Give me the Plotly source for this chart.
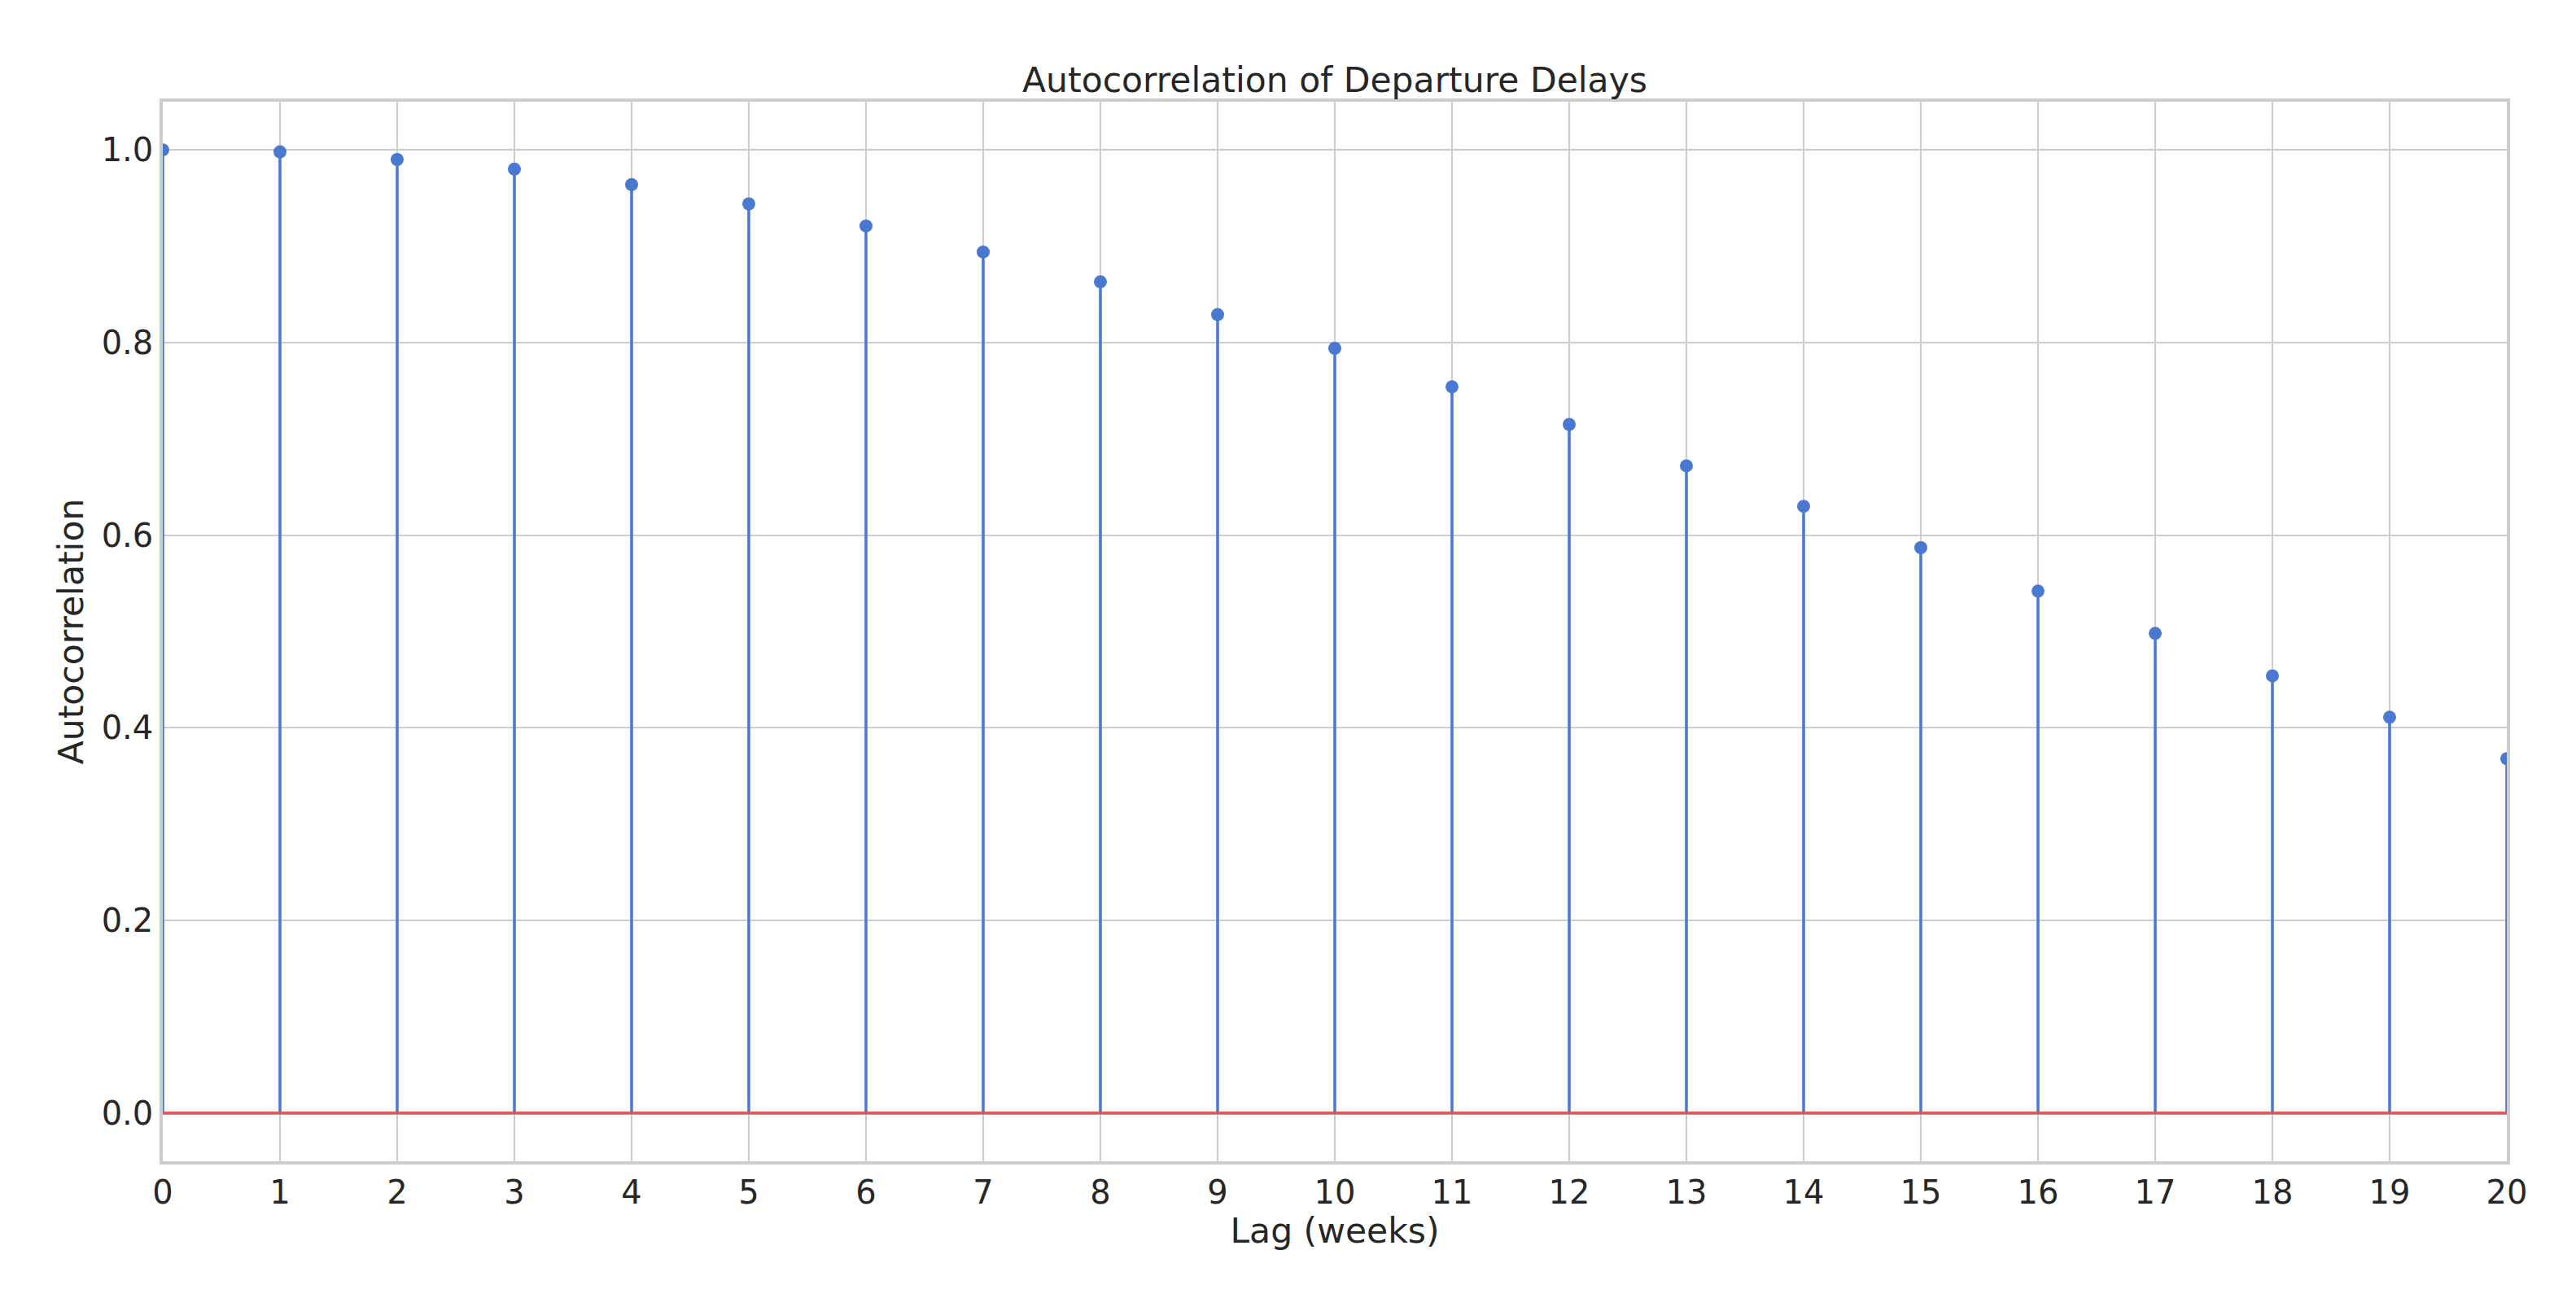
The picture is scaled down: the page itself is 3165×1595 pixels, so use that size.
import plotly.graph_objects as go

# Autocorrelation values, lags 0..20 (weeks)
lags = list(range(21))
acf_values = [1.000, 0.998, 0.990, 0.980, 0.964, 0.944, 0.921, 0.894, 0.863, 0.829,
              0.794, 0.754, 0.715, 0.672, 0.630, 0.587, 0.542, 0.498, 0.454, 0.411,
              0.368]
y_ticks = [0.0, 0.2, 0.4, 0.6, 0.8, 1.0]

title_text = "Autocorrelation of Departure Delays"
x_label = "Lag (weeks)"
y_label = "Autocorrelation"

FONT = "DejaVu Sans"
TEXT = "#262626"
GRID = "#cccccc"
BLUE = "#4878d0"
RED = "#d65f5f"

# the page body has an 8px margin, so the figure is a bit smaller and offset
PAD = 8
W, H = 3165 - PAD, 1595 - PAD
L, R, T, B = 200 - PAD, 3080 - PAD, 125 - PAD, 1427 - PAD

# stems: vertical segments from 0 to each value
stem_x, stem_y = [], []
for lag, v in zip(lags, acf_values):
    stem_x += [lag, lag, None]
    stem_y += [0, v, None]

fig = go.Figure()

fig.add_trace(go.Scatter(
    x=stem_x, y=stem_y, mode="lines",
    line=dict(color=BLUE, width=3.5),
    hoverinfo="skip", showlegend=False
))

# baseline
fig.add_trace(go.Scatter(
    x=[lags[0], lags[-1]], y=[0, 0], mode="lines",
    line=dict(color=RED, width=4),
    hoverinfo="skip", showlegend=False
))

# markers
fig.add_trace(go.Scatter(
    x=lags, y=acf_values, mode="markers",
    marker=dict(color=BLUE, size=16, line=dict(width=0)),
    showlegend=False
))

axis_common = dict(
    showgrid=True, gridcolor=GRID, gridwidth=2,
    showline=True, linecolor=GRID, linewidth=3.5, mirror=True,
    zeroline=False, ticks="",
    tickfont=dict(family=FONT, size=40, color=TEXT),
)

fig.update_layout(
    width=W, height=H,
    margin=dict(l=L, r=W - R, t=T, b=H - B),
    paper_bgcolor="white", plot_bgcolor="white",
    font=dict(family=FONT, color=TEXT),
    title=dict(
        text=title_text, x=0.5, xref="paper", xanchor="center",
        y=1 - (98 - PAD) / H, yref="container", yanchor="middle",
        font=dict(family=FONT, size=42.5, color=TEXT),
    ),
    xaxis=dict(
        range=[lags[0], lags[-1]], tickmode="array", tickvals=lags,
        ticktext=[str(v) for v in lags],
        title=dict(text=x_label, font=dict(family=FONT, size=42.5, color=TEXT), standoff=5),
        **axis_common,
    ),
    yaxis=dict(
        range=[-0.05, 1.05], tickmode="array", tickvals=y_ticks,
        ticktext=[f"{v:.1f}" for v in y_ticks],
        title=dict(text=y_label, font=dict(family=FONT, size=42.5, color=TEXT), standoff=10),
        **axis_common,
    ),
    showlegend=False,
)

fig.write_html("out.html")
